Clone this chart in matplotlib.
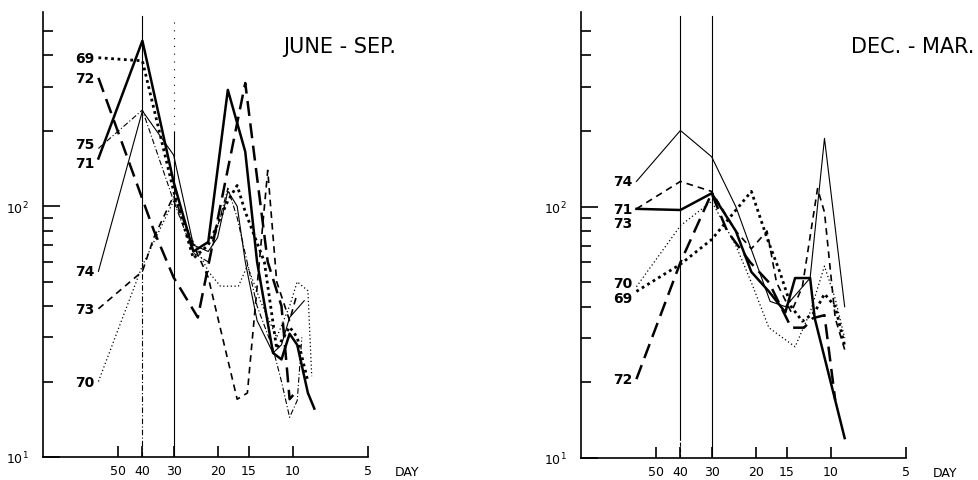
import matplotlib.pyplot as plt
from matplotlib.ticker import FixedLocator, NullLocator, LogLocator, NullFormatter

# ---- JUNE - SEP. : period (day) / spectral value
js_69_p = [60, 40, 30, 25, 21.8, 18.2, 16.7, 15.5, 13.0, 11.6, 10.3, 9.6, 8.7]
js_69_v = [391, 380, 115, 62, 70, 105, 121, 95, 60, 27, 33, 30, 20]
js_70_p = [60, 40, 30, 25, 21.8, 19.5, 16.5, 15.2, 13.5, 11.6, 10.3, 9.6, 8.7, 8.4]
js_70_v = [20, 58, 105, 72, 55, 48, 48, 58, 42, 30, 40, 50, 46, 21]
js_71_p = [60, 40, 30, 25, 21.8, 18.2, 15.5, 13.9, 12.0, 11.1, 10.3, 9.6, 8.7, 8.2]
js_71_v = [155, 457, 125, 66, 72, 291, 165, 60, 26, 24.5, 31, 28, 18, 15.6]
js_72_p = [60, 36, 30, 24, 15.5, 13.9, 12.6, 11.1, 10.3, 9.8]
js_72_v = [325, 80, 52, 36, 310, 130, 60, 40, 17, 18]
js_73_p = [60, 40, 36, 30, 25, 21.8, 16.7, 15.2, 12.6, 11.6, 10.3, 9.6]
js_73_v = [39, 55, 75, 110, 70, 52, 17, 18, 139, 50, 35, 45]
js_74_p = [60, 40, 30, 25, 21.8, 20, 18.2, 16.7, 15.5, 13.9, 12.0, 11.1, 10.3, 9.0]
js_74_v = [55, 240, 160, 70, 66, 75, 115, 100, 60, 35, 26, 28, 36, 42]
js_75_p = [60, 40, 30, 25, 21.8, 18.2, 16.7, 13.9, 12.0, 11.1, 10.3, 9.6, 9.2]
js_75_v = [170, 242, 105, 65, 60, 118, 90, 40, 27, 20, 14.4, 16.8, 30]

# ---- DEC. - MAR.
dm_69_p = [60, 40, 30, 20.8, 18, 16, 14.4, 13, 11.6, 10.6, 9.6, 8.8]
dm_69_v = [46, 59, 74, 115, 75, 55, 40, 35, 38, 45, 40, 28]
dm_70_p = [60, 40, 30, 24, 20.8, 17.7, 13.9, 12.1, 10.6, 9.6, 8.8]
dm_70_v = [48, 84, 105, 70, 50, 33, 27.7, 38, 58, 43, 30]
dm_71_p = [60, 40, 30, 24, 20.8, 17.7, 15.2, 13.9, 12.1, 11.6, 8.8]
dm_71_v = [98, 97, 113, 80, 55, 46, 38, 52, 52, 36, 12]
dm_72_p = [60, 40, 30, 26, 21, 17.7, 14.4, 12.8, 11.8, 10.6, 9.6]
dm_72_v = [20.6, 60, 113, 80, 60, 50, 33, 33, 36, 37, 17]
dm_73_p = [60, 40, 30, 24, 20.8, 18, 16.5, 14.4, 13, 11.3, 10.6, 9.6, 8.8]
dm_73_v = [98, 126, 115, 80, 68, 80, 50, 38, 48, 118, 95, 36, 27]
dm_74_p = [60, 40, 30, 24, 17.5, 15.2, 12.1, 10.6, 8.8]
dm_74_v = [126, 201, 158, 100, 42, 40, 52, 187, 40]

x_ticks = [50, 40, 30, 20, 15, 10, 5]

styles = {
    '69': dict(ls=(0, (1, 1.3)), lw=2.0),
    '70': dict(ls=(0, (1, 2)), lw=0.9),
    '71': dict(ls='-', lw=1.8),
    '72': dict(ls=(0, (6, 3)), lw=1.8),
    '73': dict(ls=(0, (4, 3)), lw=1.2),
    '74': dict(ls='-', lw=0.8),
    '75': dict(ls=(0, (5, 2, 1, 2)), lw=0.8),
}

fig = plt.figure(figsize=(9.79, 4.81), dpi=100)
ax1 = fig.add_axes([43/979, 23/481, 325/979, 445/481])
ax2 = fig.add_axes([581/979, 22/481, 325/979, 446/481])


def setup(ax):
    ax.set_xscale('log')
    ax.set_yscale('log')
    ax.set_xlim(100, 5)
    ax.set_ylim(10, 595)
    ax.spines['top'].set_visible(False)
    ax.spines['right'].set_visible(False)
    ax.xaxis.set_major_locator(FixedLocator(x_ticks))
    ax.xaxis.set_minor_locator(NullLocator())
    ax.set_xticklabels([str(t) for t in x_ticks])
    ax.yaxis.set_major_locator(LogLocator(base=10))
    ax.yaxis.set_minor_locator(LogLocator(base=10, subs=range(2, 10)))
    ax.yaxis.set_minor_formatter(NullFormatter())
    ax.tick_params(axis='x', direction='in', length=8, width=1.2, labelsize=9, pad=5)
    ax.tick_params(axis='y', which='major', direction='in', length=12, width=1.2,
                   labelsize=9, pad=10)
    ax.tick_params(axis='y', which='minor', direction='in', length=7, width=1.2)
    for s in ['left', 'bottom']:
        ax.spines[s].set_linewidth(1.2)
    ax.text(3.9, -0.017, 'DAY', transform=ax.get_xaxis_transform(),
            ha='left', va='top', fontsize=9)


setup(ax1)
setup(ax2)

# reference lines at 40 and 30 days
ax1.axvline(40, ymin=0.44, ymax=0.99, color='k', lw=0.8)
ax1.axvline(40, ymin=0, ymax=0.44, color='k', lw=0.8, ls=(0, (5, 2, 1, 2)))
ax1.axvline(30, ymin=0.73, ymax=0.99, color='k', lw=0.8, ls=(0, (1, 6)))
ax1.axvline(30, ymin=0, ymax=0.73, color='k', lw=0.8)
ax2.axvline(40, ymin=0.05, ymax=0.99, color='k', lw=0.8)
ax2.axvline(40, ymin=0, ymax=0.05, color='k', lw=0.8, ls='--')
ax2.axvline(30, ymin=0, ymax=0.99, color='k', lw=0.8)

js = [('69', js_69_p, js_69_v), ('72', js_72_p, js_72_v), ('75', js_75_p, js_75_v),
      ('71', js_71_p, js_71_v), ('74', js_74_p, js_74_v), ('73', js_73_p, js_73_v),
      ('70', js_70_p, js_70_v)]
dm = [('74', dm_74_p, dm_74_v), ('71', dm_71_p, dm_71_v), ('73', dm_73_p, dm_73_v),
      ('70', dm_70_p, dm_70_v), ('69', dm_69_p, dm_69_v), ('72', dm_72_p, dm_72_v)]

# label offsets (points) so that overlapping labels stay readable
js_off = {'75': 3, '71': -3}
dm_off = {'71': 0, '73': -10, '70': 3, '69': -5}

for ax, series, off in [(ax1, js, js_off), (ax2, dm, dm_off)]:
    for yr, p, v in series:
        ax.plot(p, v, color='k', **styles[yr])
        ax.annotate(yr, (p[0], v[0]), xytext=(-3, off.get(yr, 0)),
                    textcoords='offset points', ha='right', va='center',
                    fontsize=10, fontweight='bold')

fig.text(340/979, 1 - 47/481, 'JUNE - SEP.', ha='center', va='center', fontsize=15)
fig.text(913/979, 1 - 47/481, 'DEC. - MAR.', ha='center', va='center', fontsize=15)

fig.savefig('out.png', dpi=100)
